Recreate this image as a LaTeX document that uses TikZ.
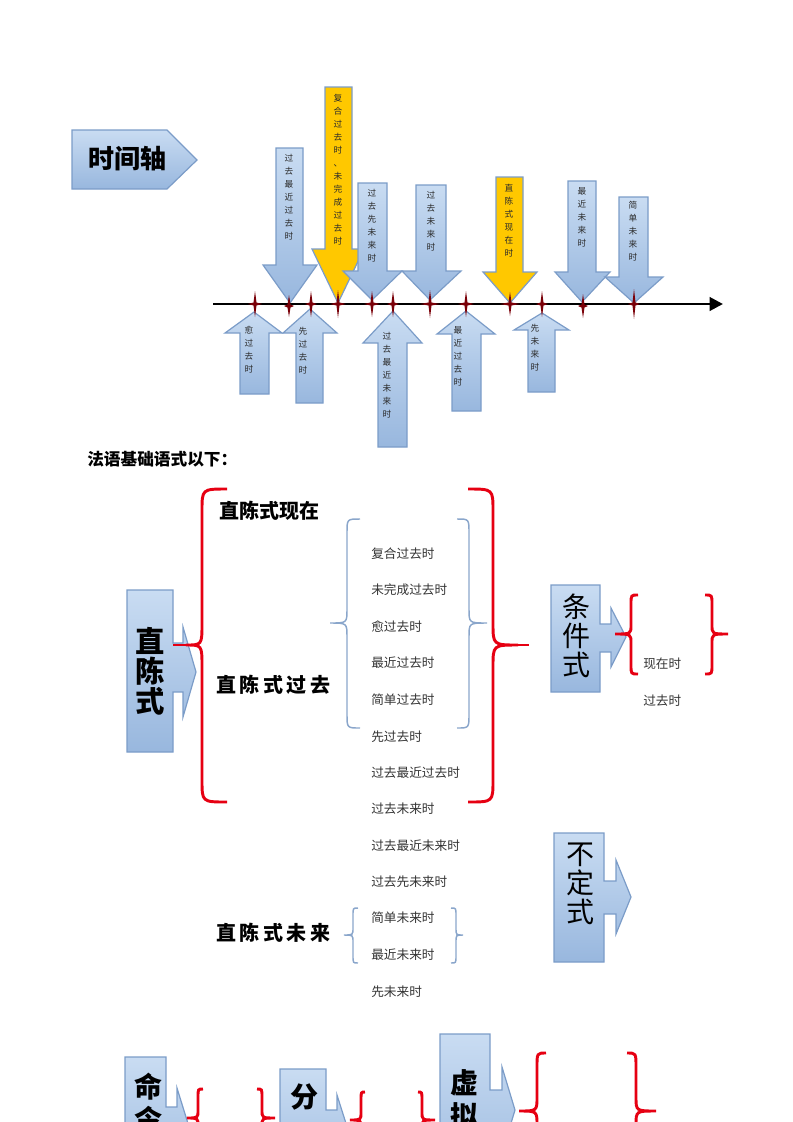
\documentclass[tikz,border=0pt]{standalone}
\usepackage{fontspec}
\setmainfont{Noto Sans CJK SC}
\usetikzlibrary{arrows.meta}
\definecolor{bluetop}{HTML}{C9DCF2}
\definecolor{bluebot}{HTML}{98B7DE}
\definecolor{arrowedge}{HTML}{7B9CC8}
\definecolor{gold}{HTML}{FFC800}
\definecolor{bracered}{HTML}{E60012}
\definecolor{braceblue}{HTML}{8AA6CB}
\definecolor{starred}{HTML}{7A0008}
\definecolor{vtgray}{HTML}{2A2A2A}
\definecolor{listgray}{HTML}{333333}
% arrow shape: shaft left, shaft right, end y, head base y, head left, head right, tip x, tip y, style
\newcommand{\ShapeArrow}[9]{\path[#9] (#1,#3) -- (#2,#3) -- (#2,#4) -- (#6,#4) -- (#7,#8) -- (#5,#4) -- (#1,#4) -- cycle;}
% brace: end x, spine x, tip x, top y, mid y, bottom y, radius, style
\newcommand{\CBrace}[8]{\draw[#8] (#1,#4) .. controls (#2,#4) .. (#2,#4+#7) -- (#2,#5-#7) .. controls (#2,#5) .. (#3,#5) .. controls (#2,#5) .. (#2,#5+#7) -- (#2,#6-#7) .. controls (#2,#6) .. (#1,#6);}
% star: x, y, half height, half width
\newcommand{\TStar}[4]{\fill[starred, shift={(#1,#2)}] (0,-#3) -- (1.5,-1.5) -- (#4,0) -- (1.5,1.5) -- (0,#3) -- (-1.5,1.5) -- (-#4,0) -- (-1.5,-1.5) -- cycle;}
\tikzset{
  bluearrow/.style={draw=arrowedge, line width=0.9pt, top color=bluetop, bottom color=bluebot},
  goldarrow/.style={draw=arrowedge, line width=0.9pt, fill=gold},
  vt/.style={font=\fontsize{6.5}{9.75}\selectfont, text=vtgray, align=center, inner sep=0pt, anchor=north},
  listitem/.style={font=\fontsize{9.5}{11}\selectfont, text=listgray, anchor=west, inner sep=0pt},
  heading/.style={font=\fontsize{15}{17}\selectfont\bfseries, anchor=west, inner sep=0pt},
  bigbold/.style={font=\fontsize{22}{24}\selectfont\bfseries, inner sep=0pt},
  bigthin/.style={font=\fontsize{21}{23}\selectfont, inner sep=0pt},
  redbrace/.style={draw=bracered, line width=2.2pt},
  bluebrace/.style={draw=braceblue, line width=1.1pt},
  timeline/.style={draw=black, line width=2.2pt, -{Triangle[length=10pt,width=10pt]}},
}
\begin{document}
\begin{tikzpicture}[x=0.75pt, y=-0.75pt]
\useasboundingbox (0,0) rectangle (793,1122);
\clip (0,0) rectangle (793,1122);

% ---------- title arrow ----------
\path[bluearrow] (72,130) -- (167,130) -- (197,160) -- (167,189) -- (72,189) -- cycle;
\node[font=\fontsize{19.5}{21}\selectfont\bfseries, inner sep=0pt] (title) at (127,159) {时间轴};

% ---------- down arrows ----------
\ShapeArrow{276}{303}{148}{265}{263}{317}{290}{303}{bluearrow}
\ShapeArrow{325}{352}{87}{249}{312}{364}{338}{303}{goldarrow}
\ShapeArrow{358}{387}{183}{271}{343}{402}{372}{300}{bluearrow}
\ShapeArrow{416}{446}{185}{271}{402}{461}{430}{300}{bluearrow}
\ShapeArrow{496}{523}{177}{272}{483}{537}{510}{303}{goldarrow}
\ShapeArrow{568}{596}{181}{272}{555}{610}{582}{302}{bluearrow}
\ShapeArrow{619}{648}{197}{277}{605}{663}{634}{303}{bluearrow}

% ---------- up arrows ----------
\ShapeArrow{240}{269}{394}{333}{225}{282}{254}{312}{bluearrow}
\ShapeArrow{296}{323}{403}{333}{283}{337}{310}{309}{bluearrow}
\ShapeArrow{378}{407}{447}{343}{363}{422}{393}{311}{bluearrow}
\ShapeArrow{452}{481}{411}{334}{437}{495}{466}{311}{bluearrow}
\ShapeArrow{528}{555}{392}{330}{514}{569}{542}{313}{bluearrow}

% ---------- timeline ----------
\coordinate (t0) at (213,304);
\coordinate (t1) at (723,304);
\draw[timeline] (t0) -- (t1);

\TStar{255}{304}{13}{7}
\TStar{289}{306}{11}{5}
\TStar{311}{304}{13}{6}
\TStar{338}{304}{14}{8}
\TStar{372}{304}{13}{8}
\TStar{393}{304}{13}{6}
\TStar{430}{304}{14}{10}
\TStar{466}{304}{13}{8}
\TStar{510}{304}{12}{10}
\TStar{542}{304}{13}{6}
\TStar{583}{306}{12}{5}
\TStar{634}{304}{15}{6}

% ---------- arrow labels ----------
\node[vt] (a1) at (289,154) {过\\去\\最\\近\\过\\去\\时};
\node[vt] (y1) at (338,94) {复\\合\\过\\去\\时\\、\\未\\完\\成\\过\\去\\时};
\node[vt] (a2) at (372,189) {过\\去\\先\\未\\来\\时};
\node[vt] (a3) at (431,191) {过\\去\\未\\来\\时};
\node[vt] (y2) at (509,184) {直\\陈\\式\\现\\在\\时};
\node[vt] (a4) at (582,187) {最\\近\\未\\来\\时};
\node[vt] (a5) at (633,201) {简\\单\\未\\来\\时};
\node[vt] (b1) at (249,326) {愈\\过\\去\\时};
\node[vt] (b2) at (303,327) {先\\过\\去\\时};
\node[vt] (b3) at (387,332) {过\\去\\最\\近\\未\\来\\时};
\node[vt] (b4) at (458,326) {最\\近\\过\\去\\时};
\node[vt] (b5) at (535,324) {先\\未\\来\\时};

% ---------- subtitle ----------
\node[font=\fontsize{12.5}{14}\selectfont\bfseries, anchor=west, inner sep=0pt] (sub) at (87,459) {法语基础语式以下：};

% ---------- indicative ----------
\path[bluearrow] (127,590) -- (173,590) -- (173,643) -- (183,643) -- (183,627) -- (196,672) -- (183,717) -- (183,692) -- (173,692) -- (173,752) -- (127,752) -- cycle;
\node[bigbold, align=center, font=\fontsize{22}{22.5}\selectfont\bfseries] (ind) at (150,671) {直\\陈\\式};

\CBrace{227}{202}{186}{489}{645}{802}{22}{redbrace}
\draw[redbrace] (186,645) -- (173,645);
\CBrace{468}{493}{518}{489}{645}{802}{22}{redbrace}
\draw[redbrace] (518,645) -- (529,645);

\CBrace{360}{347}{330}{519}{623}{728}{14}{bluebrace}
\CBrace{457}{469}{487}{519}{623}{728}{14}{bluebrace}

\node[heading] (pres) at (219,511) {直陈式现在};
\node[heading] (past) at (216,685) {直\hspace{2.6pt}陈\hspace{2.6pt}式\hspace{2.6pt}过\hspace{2.6pt}去};
\node[heading] (fut) at (216,933) {直\hspace{2.6pt}陈\hspace{2.6pt}式\hspace{2.6pt}未\hspace{2.6pt}来};

\node[listitem] (l1) at (371,554) {复合过去时};
\node[listitem] (l2) at (371,590) {未完成过去时};
\node[listitem] (l3) at (371,627) {愈过去时};
\node[listitem] (l4) at (371,663) {最近过去时};
\node[listitem] (l5) at (371,700) {简单过去时};
\node[listitem] (l6) at (371,737) {先过去时};
\node[listitem] (l7) at (371,773) {过去最近过去时};
\node[listitem] (l8) at (371,809) {过去未来时};
\node[listitem] (l9) at (371,846) {过去最近未来时};
\node[listitem] (l10) at (371,882) {过去先未来时};
\node[listitem] (l11) at (371,918) {简单未来时};
\node[listitem] (l12) at (371,955) {最近未来时};
\node[listitem] (l13) at (371,992) {先未来时};

\CBrace{358}{353}{344}{908}{935}{963}{7}{bluebrace}
\CBrace{451}{456}{463}{908}{935}{963}{7}{bluebrace}

% ---------- conditional ----------
\path[bluearrow] (551,585) -- (600,585) -- (600,624) -- (611,624) -- (611,608) -- (626,637) -- (611,667) -- (611,652) -- (600,652) -- (600,692) -- (551,692) -- cycle;
\node[bigthin, align=center, font=\fontsize{21}{21.5}\selectfont] (cond) at (576,636) {条\\件\\式};
\CBrace{638}{631}{615}{595}{634}{674}{9}{redbrace}
\CBrace{705}{712}{728}{595}{634}{674}{9}{redbrace}
\node[listitem] (c1) at (643,664) {现在时};
\node[listitem] (c2) at (643,701) {过去时};

% ---------- infinitive ----------
\path[bluearrow] (554,833) -- (604,833) -- (604,881) -- (616,881) -- (616,860) -- (631,897) -- (616,934) -- (616,914) -- (604,914) -- (604,962) -- (554,962) -- cycle;
\node[bigthin, align=center, font=\fontsize{21}{22}\selectfont] (inf) at (580,884) {不\\定\\式};

% ---------- bottom row ----------
\path[bluearrow] (125,1057) -- (166,1057) -- (166,1107) -- (177,1107) -- (177,1088) -- (190,1130) -- (177,1172) -- (177,1153) -- (166,1153) -- (166,1200) -- (125,1200) -- cycle;
\node[bigbold, align=center, font=\fontsize{21}{25}\selectfont\bfseries] (imp) at (148,1103) {命\\令};
\CBrace{203}{198}{187}{1089}{1118}{1147}{8}{redbrace}
\CBrace{257}{262}{275}{1089}{1118}{1147}{8}{redbrace}

\path[bluearrow] (280,1069) -- (326,1069) -- (326,1110) -- (337,1110) -- (337,1095) -- (350,1136) -- (337,1177) -- (337,1162) -- (326,1162) -- (326,1200) -- (280,1200) -- cycle;
\node[bigbold, font=\fontsize{21}{23}\selectfont\bfseries] (part) at (304,1097) {分};
\CBrace{365}{361}{350}{1092}{1120}{1148}{8}{redbrace}
\CBrace{418}{422}{435}{1092}{1120}{1148}{8}{redbrace}

\path[bluearrow] (440,1034) -- (490,1034) -- (490,1090) -- (502,1090) -- (502,1067) -- (515,1110) -- (502,1153) -- (502,1130) -- (490,1130) -- (490,1200) -- (440,1200) -- cycle;
\node[bigbold, align=center, font=\fontsize{21}{25}\selectfont\bfseries] (subj) at (464,1099) {虚\\拟};
\CBrace{546}{537}{519}{1053}{1111}{1169}{14}{redbrace}
\CBrace{627}{636}{656}{1053}{1111}{1169}{14}{redbrace}
\end{tikzpicture}
\end{document}
